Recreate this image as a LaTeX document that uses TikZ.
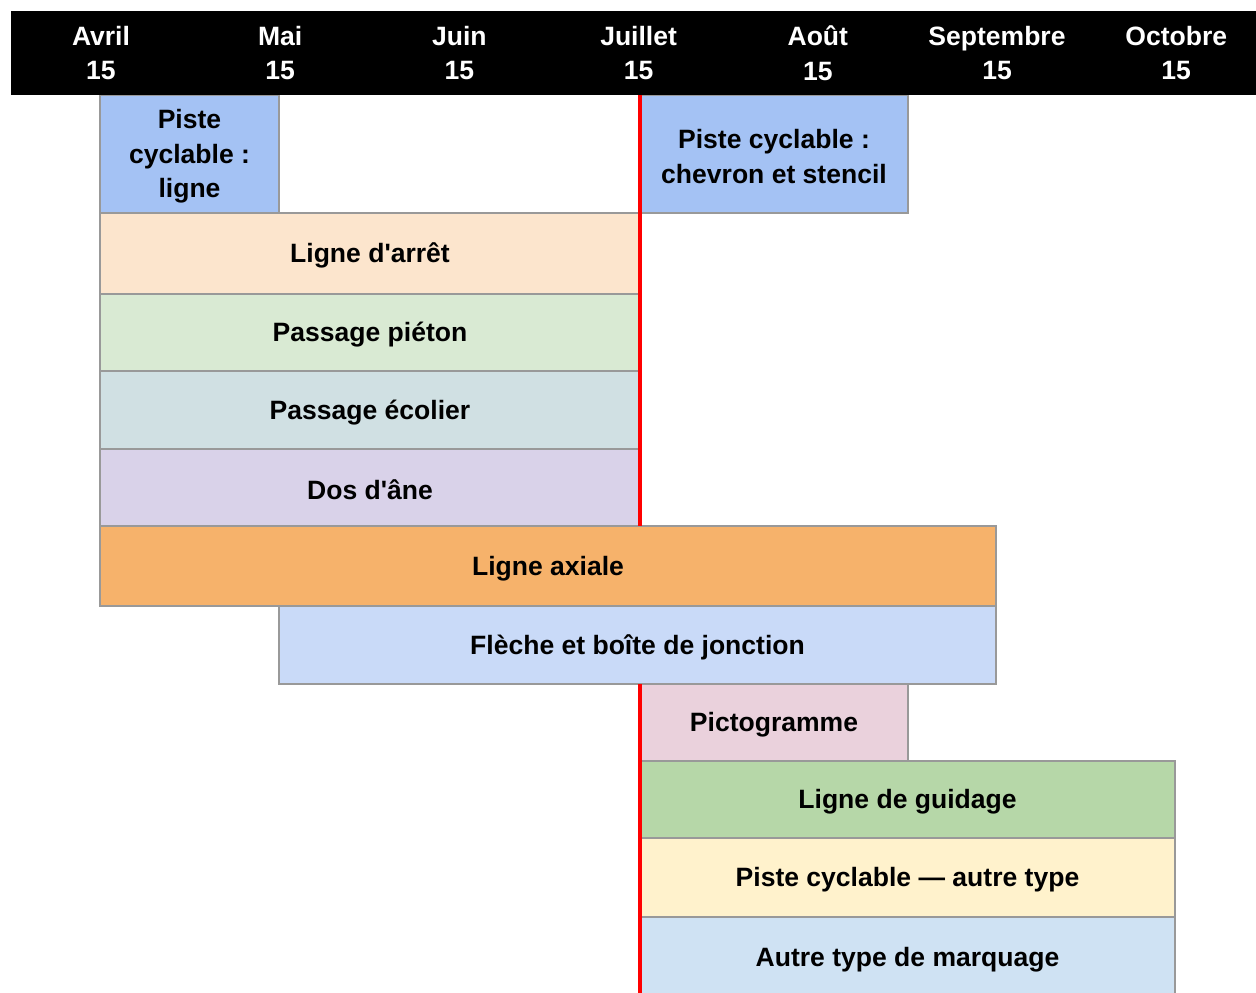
\documentclass[tikz,border=0pt]{standalone}
\usepackage{fontspec}
\setmainfont{Liberation Sans}[Ligatures=TeXOff]
\usepackage{tikz}
\usetikzlibrary{calc}

\definecolor{barline}{HTML}{999999}
\definecolor{pcblue}{HTML}{A4C2F4}
\definecolor{arret}{HTML}{FCE5CD}
\definecolor{pieton}{HTML}{D9EAD3}
\definecolor{ecolier}{HTML}{D0E0E3}
\definecolor{dosane}{HTML}{D9D2E9}
\definecolor{axiale}{HTML}{F6B26B}
\definecolor{fleche}{HTML}{C9DAF8}
\definecolor{picto}{HTML}{EAD1DC}
\definecolor{guidage}{HTML}{B6D7A8}
\definecolor{autre}{HTML}{FFF2CC}
\definecolor{marquage}{HTML}{CFE2F3}

\tikzset{
  gbar/.style={draw=barline, line width=1.1pt, inner sep=0pt},
  glabel/.style={align=center, inner sep=0pt,
    font=\bfseries\fontsize{15.1}{19.8}\selectfont},
  month/.style={text=white, align=center, inner sep=0pt,
    font=\bfseries\fontsize{15.1}{19.8}\selectfont},
  redline/.style={draw=red, line width=2.5pt}
}

\begin{document}
\begin{tikzpicture} [x=0.02cm, y=-0.02cm]
\useasboundingbox (0,0) rectangle (1256,992);
\foreach \xa/\ya/\xb/\yb/\col/\nm/\txt in {
  100/95/279/213/pcblue/ligne/{Piste\\cyclable :\\ligne},
  640/95/908/213/pcblue/chevron/{Piste cyclable :\\chevron et stencil},
  100/213/640/294/arret/arret/{Ligne d'arrêt},
  100/294/640/371/pieton/pieton/{Passage piéton},
  100/371/640/449/ecolier/ecolier/{Passage écolier},
  100/449/640/526/dosane/dosane/{Dos d'âne},
  100/526/996/606/axiale/axiale/{Ligne axiale},
  279/606/996/684/fleche/fleche/{Flèche et boîte de jonction},
  640/684/908/761/picto/picto/{Pictogramme},
  640/761/1175/838/guidage/guidage/{Ligne de guidage},
  640/838/1175/917/autre/autre/{Piste cyclable — autre type},
  640/917/1175/998/marquage/marquage/{Autre type de marquage}} {
  \node[gbar, fill=\col, minimum width={(\xb-\xa)*0.02cm}, minimum height={(\yb-\ya)*0.02cm}]
    (\nm) at ({(\xa+\xb)/2},{(\ya+\yb)/2}) {};
  \node[glabel] (\nm-t) at ([yshift=-1.3pt]\nm.center) {\txt};
}
\fill[black] (11,11) rectangle (1260,95);
\foreach \m [count=\i] in {Avril,Mai,Juin,Juillet,Août,Septembre,Octobre} {
  \node[month] (m\i) at ({101+179.2*(\i-1)},53) {\m\\15};
}
\coordinate (rtop) at (640,95);
\coordinate (rmid) at (640,526);
\coordinate (rlow) at (640,684);
\coordinate (rbot) at (640,995);
\draw[redline] (rtop)--(rmid);
\draw[redline] (rlow)--(rbot);
\end{tikzpicture}
\end{document}
